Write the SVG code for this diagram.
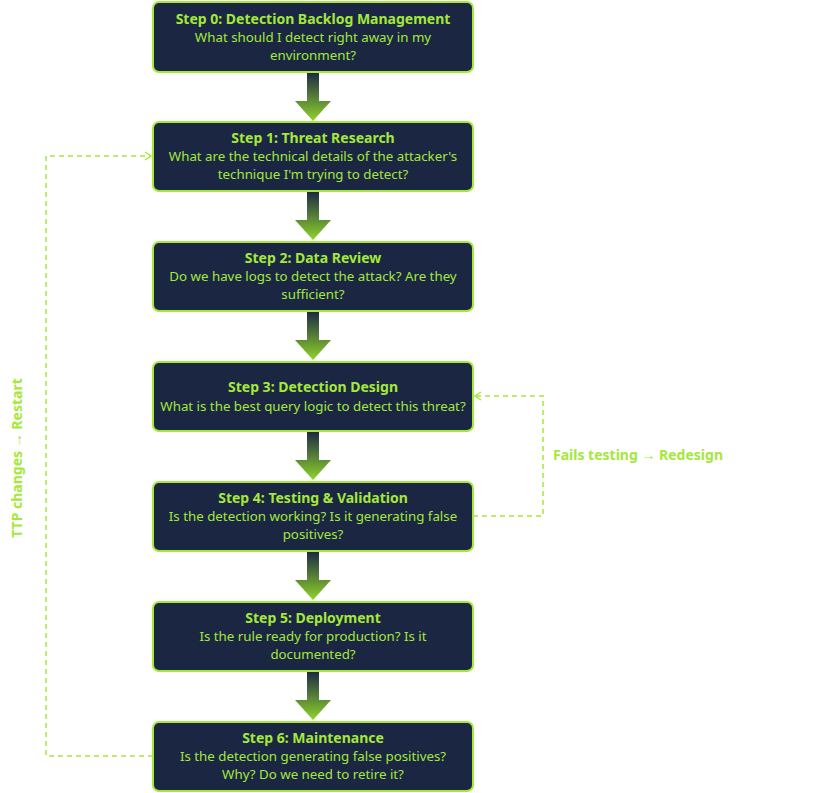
<svg xmlns="http://www.w3.org/2000/svg" width="820" height="793" viewBox="0 0 820 793">
<defs>
<linearGradient id="g" x1="0" y1="0" x2="0" y2="1"><stop offset="0" stop-color="#1e2a44"/><stop offset="1" stop-color="#8fd42a"/></linearGradient>
<marker id="m" markerWidth="10" markerHeight="10" refX="8" refY="5" orient="auto" markerUnits="userSpaceOnUse"><path d="M2,1 L8,5 L2,9" fill="none" stroke="#a4e83a" stroke-width="1.5"/></marker>
<style>
.n{fill:#1b2742;stroke:#a4e83a;stroke-width:2}
.t{font-family:"Noto Sans",sans-serif;font-size:13.3px;fill:#a4e83a;text-anchor:middle}
.b{font-weight:bold;font-size:14px}
.d{fill:none;stroke:#a4e83a;stroke-width:1.5;stroke-dasharray:5,4}
</style>
</defs>
<g id="connectors">
<g fill="url(#g)">
<path d="M307,73h12v28h12l-18,20l-18,-20h12z"/>
<path d="M307,192h12v28h12l-18,20l-18,-20h12z"/>
<path d="M307,312h12v28h12l-18,20l-18,-20h12z"/>
<path d="M307,432h12v28h12l-18,20l-18,-20h12z"/>
<path d="M307,552h12v28h12l-18,20l-18,-20h12z"/>
<path d="M307,672h12v28h12l-18,20l-18,-20h12z"/>
</g>
<path class="d" d="M153,756H46V156H151" marker-end="url(#m)"/>
<path class="d" d="M473,516H543V396H475" marker-end="url(#m)"/>
<text class="t b" x="638" y="460">Fails testing → Redesign</text>
<text class="t b" transform="translate(22,458) rotate(-90)">TTP changes → Restart</text>
</g>
<g id="step0"><rect class="n" x="153" y="2" width="320" height="70" rx="6"/><text class="t b" x="313" y="24">Step 0: Detection Backlog Management</text><text class="t" x="313" y="42">What should I detect right away in my</text><text class="t" x="313" y="60">environment?</text></g>
<g id="step1"><rect class="n" x="153" y="122" width="320" height="69" rx="6"/><text class="t b" x="313" y="143">Step 1: Threat Research</text><text class="t" x="313" y="161">What are the technical details of the attacker's</text><text class="t" x="313" y="179">technique I'm trying to detect?</text></g>
<g id="step2"><rect class="n" x="153" y="242" width="320" height="69" rx="6"/><text class="t b" x="313" y="263">Step 2: Data Review</text><text class="t" x="313" y="281">Do we have logs to detect the attack? Are they</text><text class="t" x="313" y="299">sufficient?</text></g>
<g id="step3"><rect class="n" x="153" y="362" width="320" height="69" rx="6"/><text class="t b" x="313" y="392">Step 3: Detection Design</text><text class="t" x="313" y="411">What is the best query logic to detect this threat?</text></g>
<g id="step4"><rect class="n" x="153" y="482" width="320" height="69" rx="6"/><text class="t b" x="313" y="503">Step 4: Testing &amp; Validation</text><text class="t" x="313" y="521">Is the detection working? Is it generating false</text><text class="t" x="313" y="539">positives?</text></g>
<g id="step5"><rect class="n" x="153" y="602" width="320" height="69" rx="6"/><text class="t b" x="313" y="623">Step 5: Deployment</text><text class="t" x="313" y="641">Is the rule ready for production? Is it</text><text class="t" x="313" y="659">documented?</text></g>
<g id="step6"><rect class="n" x="153" y="722" width="320" height="69" rx="6"/><text class="t b" x="313" y="743">Step 6: Maintenance</text><text class="t" x="313" y="761">Is the detection generating false positives?</text><text class="t" x="313" y="779">Why? Do we need to retire it?</text></g>
</svg>
